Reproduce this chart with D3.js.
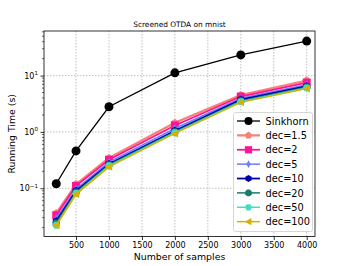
<!DOCTYPE html>
<meta charset="utf-8">
<html>
<head>
<style>
body { margin: 0; background: #fff; }
text { font-family: "DejaVu Sans", sans-serif; fill: #000; }
.grid line { stroke: #b0b0b0; stroke-dasharray: 1.5,1.5; stroke-width: 0.8; }
</style>
</head>
<body>
<svg width="354" height="266"></svg>
<script src="https://d3js.org/d3.v7.min.js"></script>
<script>
// data
var samples = [200, 500, 1000, 2000, 3000, 4000];
var xTicks = [500, 1000, 1500, 2000, 2500, 3000, 3500, 4000];
var sinkhorn = [0.12, 0.46, 2.8, 11.2, 23.3, 41];
var dec1_5 = [0.036, 0.118, 0.345, 1.45, 4.5, 8.2];
var dec2 = [0.033, 0.11, 0.32, 1.3, 4.25, 7.5];
var dec5 = [0.029, 0.097, 0.29, 1.15, 3.95, 6.9];
var dec10 = [0.026, 0.09, 0.27, 1.05, 3.75, 6.5];
var dec20 = [0.024, 0.085, 0.26, 1.0, 3.55, 6.2];
var dec50 = [0.022, 0.081, 0.25, 0.97, 3.45, 6.05];
var dec100 = [0.022, 0.078, 0.24, 0.94, 3.35, 5.9];

var series = [
  {name: "Sinkhorn", vals: sinkhorn, color: "#000000", sym: "circle", lw: 1.3, ms: 9},
  {name: "dec=1.5", vals: dec1_5, color: "#f88078", sym: "pentagon", lw: 2.2, ms: 8},
  {name: "dec=2", vals: dec2, color: "#ff1493", sym: "square", lw: 1.8, ms: 8},
  {name: "dec=5", vals: dec5, color: "#6a7cff", sym: "thindiamond", lw: 1.5, ms: 8},
  {name: "dec=10", vals: dec10, color: "#0000aa", sym: "hexagon", lw: 1.8, ms: 8},
  {name: "dec=20", vals: dec20, color: "#1b7a6c", sym: "octagon", lw: 1.5, ms: 8},
  {name: "dec=50", vals: dec50, color: "#3de0c6", sym: "hexagon2", lw: 1.5, ms: 8},
  {name: "dec=100", vals: dec100, color: "#d8b000", sym: "triangleleft", lw: 1.5, ms: 8}
];

var svg = d3.select("svg");
var pLeft = 44, pRight = 315, pTop = 31, pBottom = 236.5;

var x = d3.scaleLinear().domain([14, 4126]).range([pLeft, pRight]);
var y = d3.scaleLog().domain([0.0139, 62]).range([pBottom, pTop]);

function poly(n, r, rot) {
  var pts = [];
  for (var i = 0; i < n; i++) {
    var a = rot + i * 2 * Math.PI / n;
    pts.push([r * Math.cos(a), r * Math.sin(a)]);
  }
  return "M" + pts.map(function(p) { return p[0].toFixed(2) + "," + p[1].toFixed(2); }).join("L") + "Z";
}
function marker(sym, s) {
  var r = s / 2;
  switch (sym) {
    case "circle": return d3.symbol(d3.symbolCircle, Math.PI * r * r)();
    case "square": return "M" + (-r) + "," + (-r) + "h" + s + "v" + s + "h" + (-s) + "Z";
    case "pentagon": return poly(5, r * 1.05, -Math.PI / 2);
    case "hexagon": return poly(6, r, -Math.PI / 2);
    case "hexagon2": return poly(6, r, 0);
    case "octagon": return poly(8, r, Math.PI / 8);
    case "thindiamond": return "M0," + (-r * 1.1) + "L" + (r * 0.6) + ",0L0," + (r * 1.1) + "L" + (-r * 0.6) + ",0Z";
    case "triangleleft": return "M" + (-r) + ",0L" + (r * 0.8) + "," + (-r) + "L" + (r * 0.8) + "," + r + "Z";
  }
}

// grid
var grid = svg.append("g").attr("class", "grid");
grid.selectAll(".gx").data(xTicks).enter().append("line")
  .attr("x1", function(d) { return x(d); }).attr("x2", function(d) { return x(d); })
  .attr("y1", pTop).attr("y2", pBottom);
grid.selectAll(".gy").data([0.1, 1, 10]).enter().append("line")
  .attr("x1", pLeft).attr("x2", pRight)
  .attr("y1", function(d) { return y(d); }).attr("y2", function(d) { return y(d); });

// series
var line = d3.line()
  .x(function(d, i) { return x(samples[i]); })
  .y(function(d) { return y(d); });

series.forEach(function(s) {
  var g = svg.append("g");
  g.append("path").attr("d", line(s.vals))
    .attr("fill", "none").attr("stroke", s.color).attr("stroke-width", s.lw);
  g.selectAll("path.m").data(s.vals).enter().append("path")
    .attr("class", "m")
    .attr("d", marker(s.sym, s.ms))
    .attr("transform", function(d, i) { return "translate(" + x(samples[i]) + "," + y(d) + ")"; })
    .attr("fill", s.color);
});

// axes
var xAxis = svg.append("g").attr("transform", "translate(0," + pBottom + ")")
  .call(d3.axisBottom(x).tickValues(xTicks).tickSize(3.5).tickPadding(2).tickFormat(d3.format("d")));
var yAxis = svg.append("g").attr("transform", "translate(" + pLeft + ",0)")
  .call(d3.axisLeft(y).tickValues([0.1, 1, 10]).tickSize(3.5).tickPadding(2).tickFormat(""));

// minor log ticks
var minor = [];
[0.01, 0.1, 1, 10].forEach(function(b) {
  for (var k = 2; k <= 9; k++) { var v = b * k; if (v > 0.0139 && v < 62) minor.push(v); }
});
svg.append("g").selectAll("line").data(minor).enter().append("line")
  .attr("x1", pLeft - 2).attr("x2", pLeft)
  .attr("y1", function(d) { return y(d); }).attr("y2", function(d) { return y(d); })
  .attr("stroke", "#000").attr("stroke-width", 0.6);

[xAxis, yAxis].forEach(function(a) {
  a.select(".domain").remove();
  a.selectAll("line").attr("stroke", "#000").attr("stroke-width", 0.8);
  a.selectAll("text").style("font-size", "8px").attr("font-family", "DejaVu Sans");
});

// y tick labels with superscripts
[[0.1, "\u22121"], [1, "0"], [10, "1"]].forEach(function(t) {
  var tx = svg.append("text").attr("x", pLeft - 6).attr("y", y(t[0]) + 3)
    .attr("text-anchor", "end").style("font-size", "8px");
  tx.append("tspan").text("10");
  tx.append("tspan").attr("dy", -3.5).style("font-size", "5.6px").text(t[1]);
});

// spines
svg.append("rect").attr("x", pLeft).attr("y", pTop)
  .attr("width", pRight - pLeft).attr("height", pBottom - pTop)
  .attr("fill", "none").attr("stroke", "#000").attr("stroke-width", 0.8);

// labels
svg.append("text").attr("x", (pLeft + pRight) / 2).attr("y", 27)
  .attr("text-anchor", "middle").style("font-size", "7.4px").text("Screened OTDA on mnist");
svg.append("text").attr("x", (pLeft + pRight) / 2).attr("y", 260)
  .attr("text-anchor", "middle").style("font-size", "9.4px").text("Number of samples");
svg.append("text").attr("transform", "translate(15," + ((pTop + pBottom) / 2) + ") rotate(-90)")
  .attr("text-anchor", "middle").style("font-size", "9.4px").text("Running Time (s)");

// legend
var lg = svg.append("g");
lg.append("rect").attr("x", 233.5).attr("y", 112.5).attr("width", 79).attr("height", 119)
  .attr("rx", 2).attr("fill", "#fff").attr("fill-opacity", 0.85)
  .attr("stroke", "#cccccc").attr("stroke-width", 0.8);
series.forEach(function(s, i) {
  var cy = 121 + i * 14.38;
  lg.append("line").attr("x1", 237).attr("x2", 260).attr("y1", cy).attr("y2", cy)
    .attr("stroke", s.color).attr("stroke-width", s.lw);
  lg.append("path").attr("d", marker(s.sym, s.ms * 0.9))
    .attr("transform", "translate(248.5," + cy + ")").attr("fill", s.color);
  lg.append("text").attr("x", 265.5).attr("y", cy + 3.6).style("font-size", "9.8px").text(s.name);
});
</script>
</body>
</html>
